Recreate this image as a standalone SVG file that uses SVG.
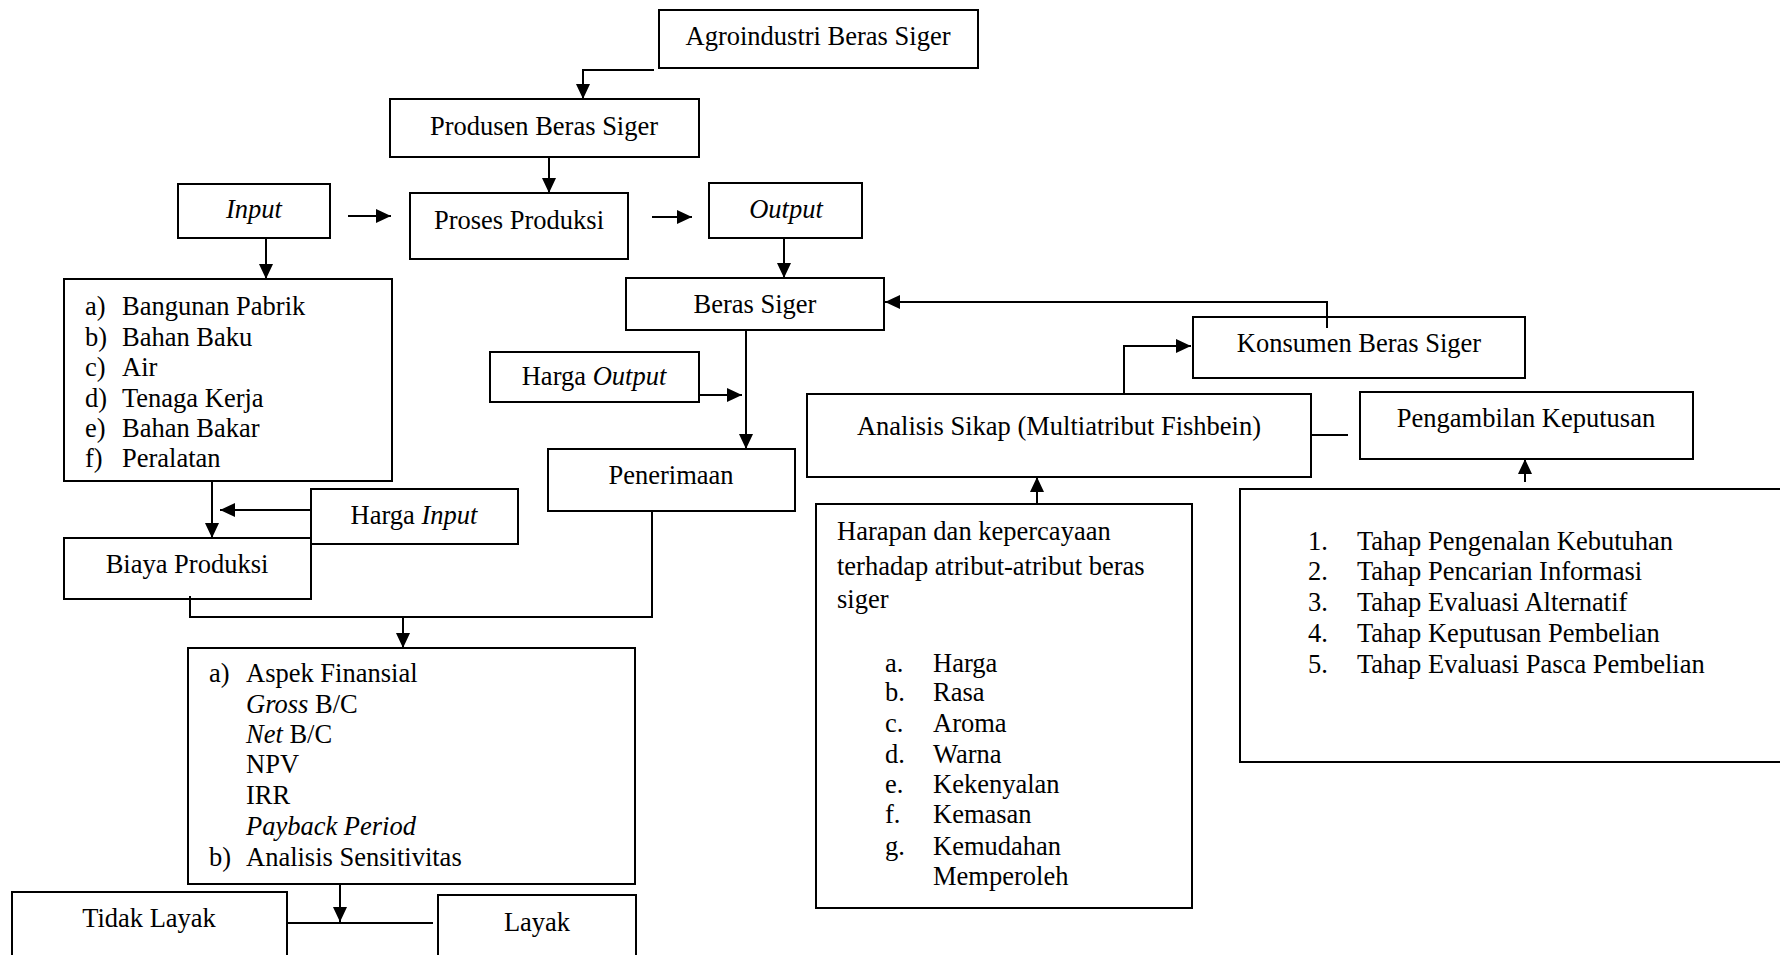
<svg xmlns="http://www.w3.org/2000/svg" width="1780" height="955" viewBox="0 0 1780 955">
<style>
.box{fill:none;stroke:#000;stroke-width:2}
.ln{fill:none;stroke:#000;stroke-width:2}
text{font-family:"Liberation Serif","Times New Roman",serif;font-size:26.5px;fill:#000}
.c{text-anchor:middle}
.i{font-style:italic}
</style>
<defs>
<marker id="ah" markerUnits="userSpaceOnUse" markerWidth="16" markerHeight="14" refX="15" refY="7" orient="auto">
<path d="M0,0 L15,7 L0,14 z" fill="#000"/>
</marker>
</defs>
<rect width="1780" height="955" fill="#fff"/>

<g id="agroindustri"><rect class="box" x="659" y="10" width="319" height="58"/><text class="c" x="818" y="45">Agroindustri Beras Siger</text></g>
<g id="produsen"><rect class="box" x="390" y="99" width="309" height="58"/><text class="c" x="544" y="135">Produsen Beras Siger</text></g>
<g id="input"><rect class="box" x="178" y="184" width="152" height="54"/><text class="c i" x="254" y="218">Input</text></g>
<g id="proses"><rect class="box" x="410" y="193" width="218" height="66"/><text class="c" x="519" y="229">Proses Produksi</text></g>
<g id="output"><rect class="box" x="709" y="183" width="153" height="55"/><text class="c i" x="786" y="218">Output</text></g>
<g id="input-list"><rect class="box" x="64" y="279" width="328" height="202"/>
<text x="85" y="315">a)</text><text x="122" y="315">Bangunan Pabrik</text>
<text x="85" y="346">b)</text><text x="122" y="346">Bahan Baku</text>
<text x="85" y="376">c)</text><text x="122" y="376">Air</text>
<text x="85" y="407">d)</text><text x="122" y="407">Tenaga Kerja</text>
<text x="85" y="437">e)</text><text x="122" y="437">Bahan Bakar</text>
<text x="85" y="467">f)</text><text x="122" y="467">Peralatan</text>
</g>
<g id="harga-input"><rect class="box" x="311" y="489" width="207" height="55"/><text class="c" x="414" y="524">Harga <tspan class="i">Input</tspan></text></g>
<g id="biaya"><rect class="box" x="64" y="538" width="247" height="61"/><text class="c" x="187" y="573">Biaya Produksi</text></g>
<g id="beras-siger"><rect class="box" x="626" y="278" width="258" height="52"/><text class="c" x="755" y="313">Beras Siger</text></g>
<g id="harga-output"><rect class="box" x="490" y="352" width="209" height="50"/><text class="c" x="594" y="385">Harga <tspan class="i">Output</tspan></text></g>
<g id="penerimaan"><rect class="box" x="548" y="449" width="247" height="62"/><text class="c" x="671" y="484">Penerimaan</text></g>
<g id="aspek"><rect class="box" x="188" y="648" width="447" height="236"/>
<text x="209" y="682">a)</text><text x="246" y="682">Aspek Finansial</text>
<text x="246" y="713"><tspan class="i">Gross</tspan> B/C</text>
<text x="246" y="743"><tspan class="i">Net</tspan> B/C</text>
<text x="246" y="773">NPV</text>
<text x="246" y="804">IRR</text>
<text x="246" y="835" class="i">Payback Period</text>
<text x="209" y="866">b)</text><text x="246" y="866">Analisis Sensitivitas</text>
</g>
<g id="tidak-layak"><rect class="box" x="12" y="892" width="275" height="80"/><text class="c" x="149" y="927">Tidak Layak</text></g>
<g id="layak"><rect class="box" x="438" y="895" width="198" height="80"/><text class="c" x="537" y="931">Layak</text></g>
<g id="konsumen"><rect class="box" x="1193" y="317" width="332" height="61"/><text class="c" x="1359" y="352">Konsumen Beras Siger</text></g>
<g id="analisis"><rect class="box" x="807" y="394" width="504" height="83"/><text class="c" x="1059" y="435">Analisis Sikap (Multiatribut Fishbein)</text></g>
<g id="pengambilan"><rect class="box" x="1360" y="392" width="333" height="67"/><text class="c" x="1526" y="427">Pengambilan Keputusan</text></g>
<g id="harapan"><rect class="box" x="816" y="504" width="376" height="404"/>
<text x="837" y="540">Harapan dan kepercayaan</text>
<text x="837" y="575">terhadap atribut-atribut beras</text>
<text x="837" y="608">siger</text>
<text x="885" y="672">a.</text><text x="933" y="672">Harga</text>
<text x="885" y="701">b.</text><text x="933" y="701">Rasa</text>
<text x="885" y="732">c.</text><text x="933" y="732">Aroma</text>
<text x="885" y="763">d.</text><text x="933" y="763">Warna</text>
<text x="885" y="793">e.</text><text x="933" y="793">Kekenyalan</text>
<text x="885" y="823">f.</text><text x="933" y="823">Kemasan</text>
<text x="885" y="855">g.</text><text x="933" y="855">Kemudahan</text>
<text x="933" y="885">Memperoleh</text>
</g>
<g id="tahap"><rect class="box" x="1240" y="489" width="600" height="273"/>
<text x="1308" y="550">1.</text><text x="1357" y="550">Tahap Pengenalan Kebutuhan</text>
<text x="1308" y="580">2.</text><text x="1357" y="580">Tahap Pencarian Informasi</text>
<text x="1308" y="611">3.</text><text x="1357" y="611">Tahap Evaluasi Alternatif</text>
<text x="1308" y="642">4.</text><text x="1357" y="642">Tahap Keputusan Pembelian</text>
<text x="1308" y="673">5.</text><text x="1357" y="673">Tahap Evaluasi Pasca Pembelian</text>
</g>

<g id="connectors">
<path class="ln" d="M654,70 H583 V99" marker-end="url(#ah)"/>
<path class="ln" d="M549,157 V193" marker-end="url(#ah)"/>
<path class="ln" d="M348,216 H391" marker-end="url(#ah)"/>
<path class="ln" d="M652,217 H692" marker-end="url(#ah)"/>
<path class="ln" d="M784,238 V278" marker-end="url(#ah)"/>
<path class="ln" d="M266,238 V279" marker-end="url(#ah)"/>
<path class="ln" d="M212,481 V538" marker-end="url(#ah)"/>
<path class="ln" d="M311,510 H220" marker-end="url(#ah)"/>
<path class="ln" d="M746,330 V449" marker-end="url(#ah)"/>
<path class="ln" d="M699,395 H742" marker-end="url(#ah)"/>
<path class="ln" d="M190,596 V617 H652 V511"/>
<path class="ln" d="M403,617 V648" marker-end="url(#ah)"/>
<path class="ln" d="M340,884 V922" marker-end="url(#ah)"/>
<path class="ln" d="M287,923 H433"/>
<path class="ln" d="M1327,328 V302 H885" marker-end="url(#ah)"/>
<path class="ln" d="M1124,394 V346 H1191" marker-end="url(#ah)"/>
<path class="ln" d="M1311,435 H1348"/>
<path class="ln" d="M1037,504 V477" marker-end="url(#ah)"/>
<path class="ln" d="M1525,482 V459" marker-end="url(#ah)"/>
</g>
</svg>
